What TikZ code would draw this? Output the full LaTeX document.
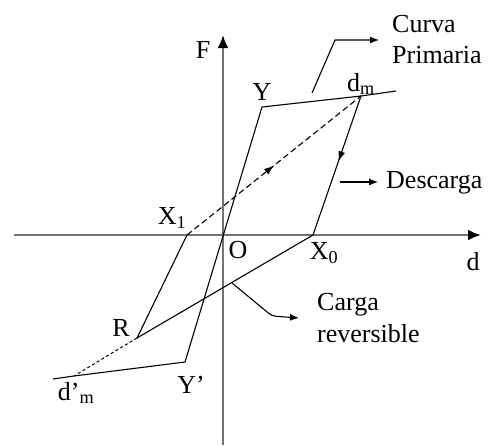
\documentclass[tikz,border=0pt]{standalone}
\usepackage{fontspec}
\setmainfont{Liberation Serif}
\usetikzlibrary{arrows.meta,decorations.markings}
\begin{document}
\begin{tikzpicture}[x=1pt,y=-1pt,
  axis/.style={draw=black!55,line width=2.4pt,-{Latex[length=13pt,width=11pt,color=black]}},
  curve/.style={draw=black,line width=1.1pt},
  dashedcurve/.style={draw=black,line width=1.1pt,dash pattern=on 6pt off 3.5pt},
  dotcurve/.style={draw=black,line width=1pt,dash pattern=on 3pt off 2.5pt},
  leader/.style={draw=black,line width=1.1pt,-{Latex[length=9pt,width=7pt]}},
  midarrow/.style={postaction={decorate},decoration={markings,mark=at position #1 with {\arrow{Latex[length=10pt,width=7pt]}}}},
  lbl/.style={inner sep=0pt,font=\fontsize{26}{31}\selectfont},
  txt/.style={inner sep=0pt,anchor=base west,font=\fontsize{26}{31}\selectfont}]
\useasboundingbox (0,0) rectangle (492,445);
\fill[white] (0,0) rectangle (492,445);
% points
\coordinate (hs) at (14,235);
\coordinate (he) at (481,235);
\coordinate (vs) at (223,445);
\coordinate (ve) at (223,35);
\coordinate (Y) at (262,107);
\coordinate (dm) at (361,96);
\coordinate (pe) at (396,91);
\coordinate (X1) at (187,235);
\coordinate (X0) at (313,235);
\coordinate (R) at (137,338);
\coordinate (Yp) at (185,362);
\coordinate (dmp) at (74,376);
\coordinate (ne) at (53,379);
\coordinate (c1) at (312,93);
\coordinate (c2) at (335,40);
\coordinate (c3) at (379,40);
\coordinate (e1) at (340,182);
\coordinate (e2) at (378,182);
\coordinate (r1) at (232,283);
\coordinate (r2) at (272,316);
\coordinate (r3) at (299,318);
% axes
\draw[axis] (hs) -- (he);
\draw[axis] (vs) -- (ve);
% curves
\draw[curve] (ne) -- (dmp) -- (Yp) -- (Y) -- (dm) -- (pe);
\draw[curve,midarrow=0.47] (dm) -- (X0);
\draw[curve] (X0) -- (R) -- (X1);
\draw[dashedcurve,midarrow=0.5] (X1) -- (dm);
\draw[dotcurve] (R) -- (dmp);
% leaders
\draw[leader] (c1) -- (c2) -- (c3);
\draw[leader] (e1) -- (e2);
\draw[leader,rounded corners=4pt] (r1) -- (r2) -- (r3);
% labels
\node[lbl] (lF) at (203,50) {F};
\node[lbl] (ld) at (473,262) {d};
\node[lbl] (lY) at (262,92) {Y};
\node[lbl] (ldm) at (361,84) {d\textsubscript{m}};
\node[lbl] (lX1) at (172,218) {X\textsubscript{1}};
\node[lbl] (lO) at (238,250) {O};
\node[lbl] (lX0) at (324,253) {X\textsubscript{0}};
\node[lbl] (lR) at (121,328) {R};
\node[lbl] (lYp) at (191,385) {Y’};
\node[lbl] (ldmp) at (76,393) {d’\textsubscript{m}};
\node[txt] (t1) at (392,32) {Curva};
\node[txt] (t2) at (392,63) {Primaria};
\node[txt] (t3) at (386,188) {Descarga};
\node[txt] (t4) at (317,310) {Carga};
\node[txt] (t5) at (317,342) {reversible};
\end{tikzpicture}
\end{document}
